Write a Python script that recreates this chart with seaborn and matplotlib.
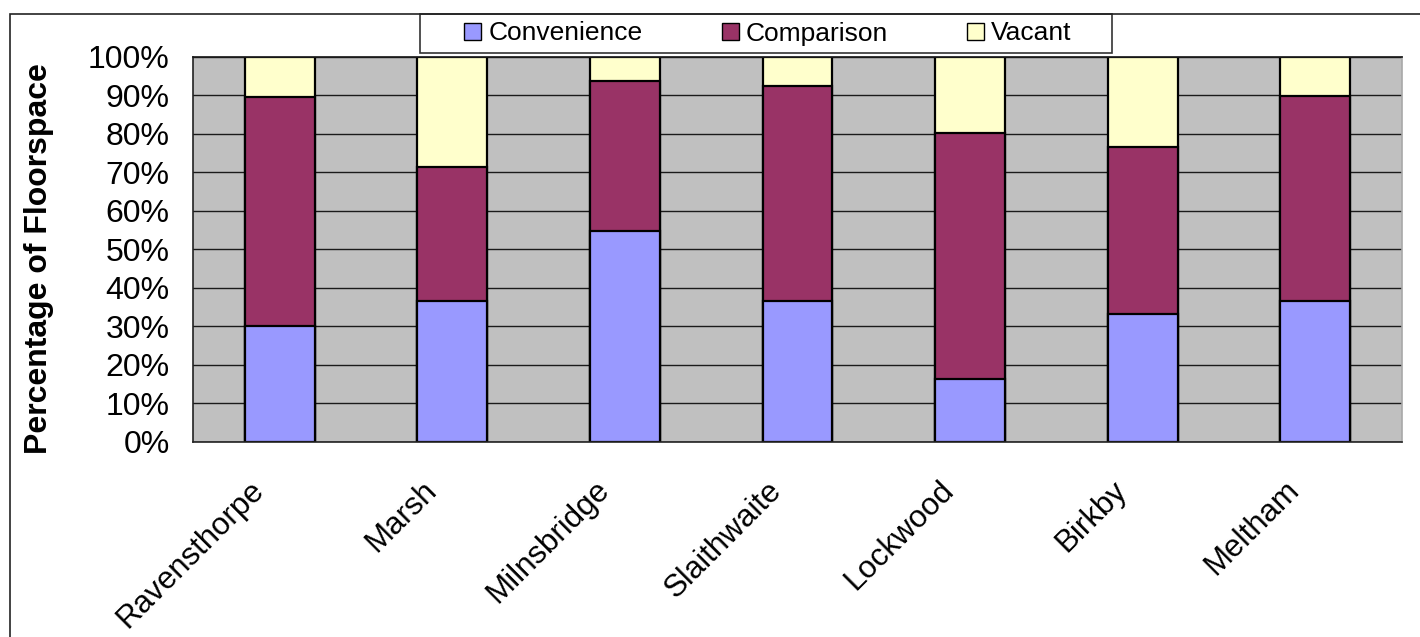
import matplotlib
matplotlib.use("Agg")
import matplotlib.pyplot as plt
from matplotlib.patches import Patch, Rectangle
import matplotlib.transforms as mtransforms
import numpy as np
import pandas as pd
import seaborn as sns

# Share of retail floorspace by centre (percent)
areas = ["Ravensthorpe", "Marsh", "Milnsbridge", "Slaithwaite", "Lockwood", "Birkby", "Meltham"]
convenience = [30.0, 36.6, 54.8, 36.6, 16.3, 33.2, 36.6]
comparison = [59.5, 34.7, 39.0, 55.9, 64.0, 43.3, 53.3]
vacant = [10.5, 28.7, 6.2, 7.5, 19.7, 23.5, 10.1]

series_names = ["Convenience", "Comparison", "Vacant"]
series_colors = ["#9999FF", "#993366", "#FFFFCC"]
y_ticks = [0, 10, 20, 30, 40, 50, 60, 70, 80, 90, 100]
y_tick_labels = [f"{v}%" for v in y_ticks]
y_label = "Percentage of Floorspace"

sns.set_theme(style="white")
plt.rcParams["font.family"] = ["Liberation Sans", "DejaVu Sans"]
plt.rcParams.update({"text.color": "black", "axes.labelcolor": "black",
                     "xtick.color": "black", "ytick.color": "black"})

# Cumulative top of each stacked segment; taller segments are drawn first
conv = np.array(convenience)
comp = np.array(comparison)
vac = np.array(vacant)
tops = {"Convenience": conv, "Comparison": conv + comp, "Vacant": conv + comp + vac}
draw_order = ["Vacant", "Comparison", "Convenience"]
rows = []
for name in draw_order:
    for area, top in zip(areas, tops[name]):
        rows.append({"Area": area, "Series": name, "Top": top})
df = pd.DataFrame(rows)
palette = dict(zip(series_names, series_colors))

W, H = 1420, 637
fig = plt.figure(figsize=(W / 100, H / 100), dpi=100, facecolor="white")
ax = fig.add_axes([193.3 / W, 1 - 441.7 / H, (1401.7 - 193.3) / W, (441.7 - 57) / H])
ax.set_facecolor("#C0C0C0")

sns.barplot(data=df, x="Area", y="Top", hue="Series", hue_order=draw_order,
            order=areas, palette=palette, dodge=False, width=0.405, saturation=1,
            edgecolor="black", linewidth=1.6, legend=False, ax=ax)

ax.set_xlim(-0.5, len(areas) - 0.5)
ax.set_ylim(0, 100)
ax.set_yticks(y_ticks)
ax.set_yticklabels(y_tick_labels, fontsize=23)
ax.yaxis.grid(True, color="#1a1a1a", linewidth=1.0)
ax.set_axisbelow(True)

ax.set_xticks(range(len(areas)))
ax.set_xticks(np.arange(-0.5, len(areas), 1), minor=True)
ax.tick_params(axis="x", which="major", length=0, pad=24)
ax.tick_params(axis="x", which="minor", length=7, width=1, color="black", direction="out")
ax.tick_params(axis="y", which="major", length=7, width=1, color="black", direction="out", pad=10)
ax.set_xticklabels(areas, rotation=45, ha="right", va="top", rotation_mode="anchor", fontsize=22.5)
# Slanted category names sit a little left of each category centre
shift = mtransforms.ScaledTranslation(-31 / 100, 0, fig.dpi_scale_trans)
for lbl in ax.get_xticklabels():
    lbl.set_transform(lbl.get_transform() + shift)
ax.set_xlabel("")

ax.set_ylabel(y_label, fontsize=23, fontweight="bold")
ax.yaxis.set_label_coords(-0.115, 0.476)

for side in ["left", "bottom"]:
    ax.spines[side].set_color("#222222")
    ax.spines[side].set_linewidth(1.2)
ax.spines["right"].set_color("#A8A8A8")
ax.spines["top"].set_color("#1a1a1a")
ax.spines["right"].set_linewidth(1.2)

# Legend entries, with a separate box around them
handles = [Patch(facecolor=c, edgecolor="black", linewidth=1.0) for c in series_colors]
leg = fig.legend(handles, series_names, loc="center", ncol=3,
                 bbox_to_anchor=(768 / W, 1 - 33.5 / H),
                 bbox_transform=fig.transFigure, fontsize=19, frameon=False,
                 handlelength=0.64, handleheight=0.64, handletextpad=0.27,
                 columnspacing=3.0, borderpad=0, borderaxespad=0)
fig.patches.append(Rectangle((420 / W, 1 - 53 / H), (1112 - 420) / W, 39 / H,
                             transform=fig.transFigure, facecolor="white",
                             edgecolor="#333333", linewidth=1.2, zorder=-1))

# Outer chart frame
fig.patches.append(Rectangle((10 / W, -0.2), 1.2, 1 - 14 / H + 0.2, transform=fig.transFigure,
                             fill=False, edgecolor="#222222", linewidth=1.2))

fig.savefig("out.png", dpi=100, facecolor="white")
